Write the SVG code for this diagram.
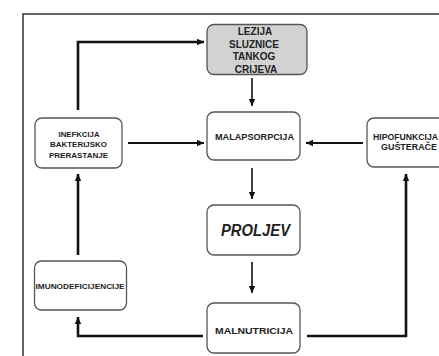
<svg xmlns="http://www.w3.org/2000/svg" width="439" height="356" viewBox="0 0 439 356">
<defs>
<marker id="ah" markerWidth="8" markerHeight="8" refX="7" refY="4" orient="auto" markerUnits="userSpaceOnUse">
<path d="M0,0.8 L7,4 L0,7.2 Z" fill="#111"/>
</marker>
<style>
.node{fill:#fff;stroke:#555;stroke-width:1.3}
.gray{fill:#d2d2d2}
.t{font-family:"Liberation Sans",Arial,sans-serif;font-weight:bold;fill:#222;text-anchor:middle}
.s{text-anchor:start}
.c{fill:none;stroke:#111;marker-end:url(#ah)}
.thin{stroke-width:1.6}
.mid{stroke-width:2.2}
.thick{stroke-width:2.6}
</style>
</defs>
<rect width="439" height="356" fill="#fff"/>
<path d="M23,360 L23,14 L445,14" fill="none" stroke="#333" stroke-width="1.5"/>
<g id="connectors">
<path class="c thin" d="M252,78 L252,106"/>
<path class="c thin" d="M252,168 L252,199"/>
<path class="c thin" d="M252,262 L252,293"/>
<path class="c mid" d="M128,143 L204,143"/>
<path class="c mid" d="M363,143 L306,143"/>
<path class="c thick" d="M78,255 L78,174"/>
<path class="c thick" d="M78,110 L78,42 L204,42"/>
<path class="c thick" d="M203,336 L78,336 L78,317"/>
<path class="c thick" d="M307,336 L406,336 L406,174"/>
</g>
<g id="lezija">
<rect class="node gray" x="207" y="24.5" width="100" height="50" rx="7"/>
<text class="t" font-size="10" x="255" y="35">LEZIJA</text>
<text class="t" font-size="10" x="254" y="48">SLUZNICE</text>
<text class="t" font-size="10" x="254" y="60">TANKOG</text>
<text class="t" font-size="10" x="256" y="73">CRIJEVA</text>
</g>
<g id="malapsorpcija">
<rect class="node" x="207" y="112" width="93" height="48" rx="7"/>
<text class="t" font-size="9" x="254.5" y="140" textLength="79" lengthAdjust="spacingAndGlyphs">MALAPSORPCIJA</text>
</g>
<g id="inefkcija">
<rect class="node" x="35" y="118" width="87" height="50" rx="7"/>
<text class="t" font-size="7.5" x="79" y="136.5" textLength="41" lengthAdjust="spacingAndGlyphs">INEFKCIJA</text>
<text class="t" font-size="7.5" x="78.5" y="147" textLength="57" lengthAdjust="spacingAndGlyphs">BAKTERIJSKO</text>
<text class="t" font-size="7.5" x="78.5" y="157.5" textLength="59" lengthAdjust="spacingAndGlyphs">PRERASTANJE</text>
</g>
<g id="hipofunkcija">
<rect class="node" x="367" y="118" width="90" height="49" rx="7"/>
<text class="t s" font-size="9" x="373" y="139.5" textLength="65" lengthAdjust="spacingAndGlyphs">HIPOFUNKCIJA</text>
<text class="t s" font-size="9" x="381" y="149.5" textLength="56" lengthAdjust="spacingAndGlyphs">GUŠTERAČE</text>
</g>
<g id="proljev">
<rect class="node" x="207" y="205" width="93" height="50" rx="7"/>
<text class="t" font-size="16" font-style="italic" x="255.5" y="236" textLength="69" lengthAdjust="spacingAndGlyphs">PROLJEV</text>
</g>
<g id="imunodeficijencije">
<rect class="node" x="34.5" y="261" width="92" height="49" rx="7"/>
<text class="t" font-size="7.5" x="80" y="288.5" textLength="89" lengthAdjust="spacingAndGlyphs">IMUNODEFICIJENCIJE</text>
</g>
<g id="malnutricija">
<rect class="node" x="207" y="303" width="93" height="50" rx="7"/>
<text class="t" font-size="9" x="254" y="334" textLength="78" lengthAdjust="spacingAndGlyphs">MALNUTRICIJA</text>
</g>
</svg>
